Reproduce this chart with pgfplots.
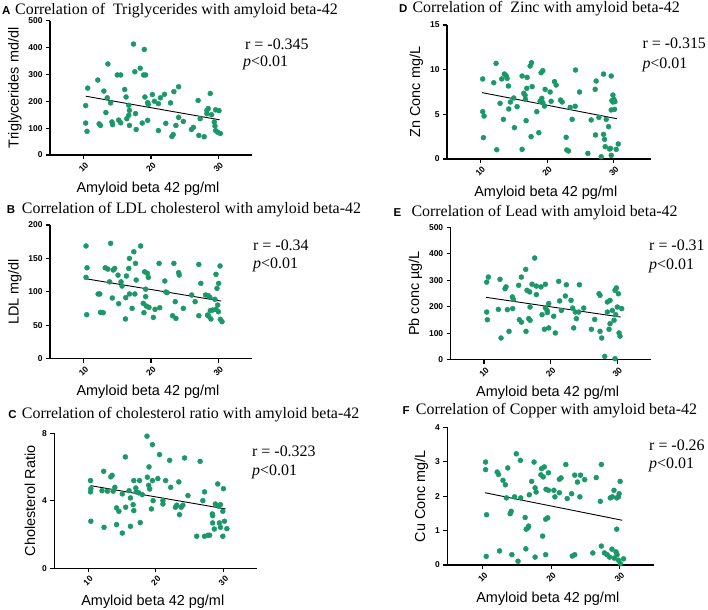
\documentclass[border=0pt]{standalone}
\usepackage{fontspec}
\setmainfont{Liberation Serif}
\setsansfont{Liberation Sans}
\usepackage{pgfplots}
\pgfplotsset{compat=1.18}
\definecolor{dotgreen}{RGB}{26,152,104}

\pgfplotsset{
  panel/.style={
    scale only axis, clip=false,
    axis x line*=bottom, axis y line*=left,
    axis line style={line width=1.2bp,-},
    tick align=outside, major tick length=4bp,
    tick style={black, line width=1.2bp},
    xmin=5, xmax=35, ymin=0, xtick={10,20,30},
    /pgf/number format/assume math mode=true,
    tick label style={font=\sffamily\bfseries\fontsize{8.5}{9}\selectfont},
    xticklabel style={rotate=45, anchor=center},
    xticklabel shift=8.5bp,
    label style={font=\sffamily\fontsize{14.5}{16}\selectfont},
    xlabel style={at={(axis description cs:0.5,0)}, anchor=base, yshift=-37bp, xshift=-3bp},
    xlabel={Amyloid beta 42 pg/ml},
  },
  dots/.style={only marks, mark=*, mark size=2.5bp, color=dotgreen, mark options={solid, draw=dotgreen, fill=dotgreen}},
  fit/.style={black, line width=0.9bp, no marks},
}
\tikzset{
  letter/.style={anchor=base west, inner sep=0pt, font=\sffamily\bfseries\fontsize{11.5}{12}\selectfont},
  ttl/.style={anchor=base west, inner sep=0pt, font=\fontsize{16}{18}\selectfont},
  stat/.style={anchor=base west, inner sep=0pt, font=\fontsize{16}{18}\selectfont},
}

\begin{document}
\begin{tikzpicture}
\useasboundingbox (0,0) rectangle (708bp,-610bp);

% A - triglycerides
\begin{axis}[panel, at={(50bp,-155bp)}, anchor=south west, width=202bp, height=134.3bp,
  ymax=500, ytick={0,100,...,500}, ylabel={Triglycerides md/dl}]
\addplot[dots] coordinates {
(10.6,249)(10.3,184)(10.3,119)(10.5,88)(12.1,279)(12.3,116)(12.5,110)(13.0,238)(13.5,213)(13.6,339)
(13.3,158)(14.0,194)(14.2,123)(14.3,113)(15.0,298)(15.5,298)(15.2,130)(15.5,120)(16.1,244)(16.3,216)
(16.7,185)(16.8,166)(16.7,148)(16.4,135)(16.8,110)(17.4,413)(17.6,310)(17.7,154)(17.8,95)(18.4,323)
(19.0,393)(18.9,298)(19.2,298)(18.7,119)(19.1,216)(19.5,195)(19.6,188)(19.5,129)(20.2,225)(20.5,200)
(21.1,191)(21.4,213)(21.1,91)(22.0,226)(22.2,118)(22.9,194)(23.4,236)(24.1,254)(23.7,110)(24.1,140)
(23.3,76)(23.1,69)(24.8,125)(26.0,95)(26.3,103)(27.0,203)(27.3,135)(27.1,73)(27.9,68)(28.3,166)
(28.5,173)(28.3,154)(28.8,229)(29.0,150)(29.4,123)(29.5,108)(29.6,168)(30.1,165)(29.6,91)(29.9,85)
(30.3,80)
};
\addplot[fit] coordinates {(10.3,219)(30.2,131)};
\end{axis}

% B - LDL
\begin{axis}[panel, at={(50bp,-358.7bp)}, anchor=south west, width=202bp, height=133.7bp,
  ymax=200, ytick={0,50,...,200}, ylabel={LDL mg/dl}]
\addplot[dots] coordinates {
(10.35,168.6)(10.5,136)(10.35,121.7)(10.45,65.8)(12.15,96.8)(12.4,96.8)(12.5,69.3)(12.9,68.8)(14.0,172.6)(13.2,136)
(13.6,134)(14.4,132.7)(14.6,135)(13.85,115)(14.25,90.8)(15.1,125)(15.55,115)(15.7,108.7)(15.2,82.3)(16.35,123.7)
(16.25,91.3)(16.2,59.4)(16.8,150)(16.7,135)(16.8,96.8)(17.2,75.3)(17.45,160)(17.7,142.6)(17.8,117.7)(17.6,96.8)
(18.45,168.6)(19.05,130)(19.45,127.7)(19.6,121.7)(19.2,104)(19.2,92.8)(18.85,82.8)(19.3,78.8)(19.7,76.8)(18.95,68.8)
(20.35,61.8)(20.6,73.8)(21.2,142.6)(21.3,76.3)(22.05,116.2)(22.2,99.8)(22.4,98.8)(23.4,142.6)(24.1,128.7)(24.2,125.2)
(23.6,85.3)(23.2,64.3)(23.7,60.3)(24.8,75.3)(26.05,95.3)(26.55,85.3)(27.1,141)(27.4,112.7)(27.1,64.3)(28.1,95.3)
(28.5,94.3)(28.75,91.8)(28.8,71.8)(29.15,72.8)(28.55,63.8)(28.9,59.4)(29.5,88.8)(29.65,73.8)(29.8,105.2)(30.05,112.7)
(30.25,138.7)(29.65,126.2)(29.9,80.3)(30.0,70.3)(30.3,58.9)(30.55,55.4)(28.4,65.3)
};
\addplot[fit] coordinates {(10.25,119.7)(30.4,86.3)};
\end{axis}

% C - cholesterol ratio
\begin{axis}[panel, at={(54.3bp,-568.3bp)}, anchor=south west, width=203bp, height=135bp,
  ymax=8, ytick={0,4,8}, ylabel={Cholesterol Ratio}]
\addplot[dots] coordinates {
(10.35,5.20)(10.4,4.72)(10.35,4.53)(10.4,2.79)(12.3,5.75)(12.05,4.60)(12.85,4.57)(12.35,2.43)(13.35,5.42)(13.55,5.51)
(13.95,4.80)(13.7,4.57)(14.2,3.58)(14.55,3.38)(14.2,2.59)(15.05,2.09)(15.05,4.41)(15.5,6.60)(15.55,3.62)(16.05,4.60)
(16.25,4.17)(16.25,2.49)(16.75,5.20)(16.65,3.77)(16.75,3.42)(17.05,4.76)(17.1,4.53)(17.6,5.20)(17.7,2.71)(17.5,4.47)
(18.0,4.37)(18.7,7.83)(18.75,5.40)(18.95,4.92)(19.1,4.70)(19.0,6.01)(19.35,3.52)(19.5,5.20)(19.5,7.33)(19.6,4.01)
(20.3,5.32)(20.55,6.74)(21.05,4.01)(21.05,3.81)(21.45,5.20)(22.05,6.40)(22.2,4.80)(22.9,3.62)(23.1,3.74)(23.4,5.12)
(23.5,3.18)(23.75,3.62)(24.0,3.74)(24.25,6.54)(24.75,4.31)(26.05,1.90)(26.55,6.34)(26.95,4.01)(27.2,4.53)(27.2,1.90)
(27.7,1.96)(27.95,1.96)(28.35,3.22)(28.4,3.12)(28.8,3.81)(28.65,2.33)(28.4,2.69)(29.15,5.00)(29.3,3.68)(29.55,3.77)
(29.4,2.69)(29.55,2.43)(29.9,1.90)(30.0,4.72)(30.15,2.79)(29.9,3.38)(30.5,2.35)
};
\addplot[fit] coordinates {(10.35,4.90)(30.3,3.52)};
\end{axis}

% D - zinc
\begin{axis}[panel, at={(447bp,-159bp)}, anchor=south west, width=203.6bp, height=134bp,
  xmax=35.5, ymax=15, ytick={0,5,10,15}, ylabel={Zn Conc mg/L}]
\addplot[dots] coordinates {
(10.35,8.96)(10.35,5.30)(10.55,4.81)(10.45,2.39)(12.35,10.71)(12.0,8.54)(12.45,1.04)(13.2,8.96)(13.6,9.51)(13.85,9.33)
(14.0,9.03)(14.2,8.17)(12.95,6.23)(13.45,4.44)(14.5,6.38)(14.25,5.60)(15.0,6.83)(15.1,3.51)(15.5,5.86)(16.25,9.29)
(16.5,7.35)(16.75,6.68)(16.85,4.29)(16.25,1.08)(16.7,7.13)(17.0,9.14)(16.95,7.91)(17.45,10.41)(17.65,10.78)(17.75,8.10)
(17.6,2.50)(18.45,5.30)(18.75,2.95)(18.95,6.46)(19.1,9.66)(19.35,9.89)(19.2,6.79)(19.35,6.31)(19.7,7.80)(19.6,5.93)
(20.45,7.50)(20.6,6.46)(21.1,8.66)(21.35,8.28)(22.0,6.60)(22.25,6.38)(22.85,2.43)(22.95,1.01)(23.2,0.90)(23.45,5.78)
(24.2,5.90)(23.75,4.44)(24.25,9.96)(24.85,7.50)(26.1,0.63)(26.6,4.37)(27.2,7.80)(27.35,8.73)(27.25,2.69)(27.75,4.66)
(28.45,9.51)(28.45,2.76)(28.1,0.26)(28.6,2.20)(28.85,4.44)(29.2,3.62)(28.7,1.38)(29.6,9.29)(29.85,7.16)(29.7,6.53)
(29.85,6.38)(30.15,6.42)(29.6,5.49)(30.1,5.56)(29.5,1.19)(29.6,0.41)(30.0,6.68)(30.35,1.08)(30.65,1.68)(29.35,1.12)
};
\addplot[fit] coordinates {(10.25,7.43)(30.45,4.51)};
\end{axis}

% E - lead
\begin{axis}[panel, at={(450.7bp,-359.7bp)}, anchor=south west, width=200bp, height=132.4bp,
  ymax=500, ytick={0,100,...,500}, ylabel={Pb conc µg/L}]
\addplot[dots] coordinates {
(10.65,312)(10.4,293)(10.4,180)(10.5,151)(12.4,303.5)(12.15,190)(12.55,82)(13.15,268)(13.3,275)(13.5,189)
(13.75,107)(14.25,237)(14.4,228)(14.3,193)(15.2,281)(15.6,312)(15.3,151)(15.6,142)(16.25,341)(16.45,262)
(16.85,256)(16.3,107)(16.9,199)(16.7,155)(16.9,149)(17.6,384)(17.2,285)(17.85,278)(17.85,246)(18.55,275)
(19.2,285)(18.7,170)(19.2,196)(19.45,186)(19.05,115)(19.7,120)(19.5,178)(19.7,212)(20.45,164)(20.7,101)
(21.2,296)(21.35,222)(21.6,186)(22.2,240.5)(22.35,283)(23.05,224)(23.3,195)(23.45,120)(23.85,155)(23.7,180)
(24.3,283)(24.2,180)(24.95,195)(26.1,115)(26.6,152)(27.25,249)(27.4,243)(27.4,107)(27.65,82)(28.1,12.6)
(28.5,218)(28.9,224)(28.5,180)(28.9,136)(28.75,115)(29.25,186)(29.5,149)(29.65,262)(29.85,271)(29.65,3.8)
(30.0,199)(30.15,249)(30.25,101)(30.4,89)(30.65,193)(29.75,170)
};
\addplot[fit] coordinates {(10.3,235.5)(30.5,161)};
\end{axis}

% F - copper
\begin{axis}[panel, at={(447.3bp,-565bp)}, anchor=south west, width=207bp, height=137.7bp,
  xmin=4.8, xmax=35.1, ymax=4, ytick={0,1,...,4}, ylabel={Cu Conc mg/L}]
\addplot[dots] coordinates {
(10.4,2.99)(10.4,2.77)(10.55,1.46)(10.5,0.25)(12.1,2.70)(12.3,2.63)(12.45,0.41)(12.95,2.46)(13.3,2.33)(13.65,2.82)
(13.45,1.95)(14.15,1.56)(14.0,1.49)(14.25,0.30)(14.9,3.23)(15.5,3.04)(14.65,1.98)(15.15,0.11)(15.55,1.95)(16.2,1.38)
(16.35,1.04)(16.6,1.08)(16.7,1.13)(16.3,0.47)(16.8,2.04)(17.15,2.43)(17.5,2.99)(17.65,2.24)(17.8,2.12)(17.65,0.23)
(18.5,2.62)(18.6,2.80)(18.85,2.56)(18.75,0.84)(19.2,1.33)(19.5,1.37)(19.2,0.30)(19.25,2.20)(19.6,2.17)(19.0,2.85)
(19.6,2.68)(20.4,2.17)(20.55,1.98)(21.2,2.49)(21.45,2.53)(21.2,2.10)(22.15,2.92)(22.35,1.93)(23.1,0.26)(23.45,0.30)
(23.0,2.07)(23.45,2.61)(23.85,2.41)(24.2,1.98)(24.3,2.61)(24.9,2.48)(26.1,0.35)(26.6,2.54)(27.2,1.85)(27.35,2.92)
(27.35,0.55)(27.8,0.35)(28.2,0.30)(28.55,0.23)(28.9,0.46)(28.65,1.95)(28.95,1.98)(29.2,2.17)(29.6,1.95)(29.95,2.07)
(30.1,2.43)(29.5,0.38)(29.65,0.30)(29.6,1.04)(29.85,0.14)(30.15,0.04)(30.6,0.18)(29.85,1.98)(29.25,0.20)
};
\addplot[fit] coordinates {(10.3,2.10)(30.4,1.30)};
\end{axis}

% panel titles
\node[letter] at (2bp,-14.5bp) {A};
\node[ttl] at (15bp,-14.5bp) {Correlation of\ \ Triglycerides with amyloid beta-42};
\node[letter] at (6.7bp,-213.3bp) {B};
\node[ttl] at (21.7bp,-213.3bp) {Correlation of LDL cholesterol with amyloid beta-42};
\node[letter] at (8.3bp,-418.3bp) {C};
\node[ttl] at (21.7bp,-418.3bp) {Correlation of cholesterol ratio with amyloid beta-42};
\node[letter] at (399bp,-12.7bp) {D};
\node[ttl] at (412.3bp,-12.7bp) {Correlation of\ \ Zinc with amyloid beta-42};
\node[letter] at (393.3bp,-216.7bp) {E};
\node[ttl] at (411.3bp,-216.7bp) {Correlation of Lead with amyloid beta-42};
\node[letter] at (402.3bp,-414.3bp) {F};
\node[ttl] at (415.7bp,-414.3bp) {Correlation of Copper with amyloid beta-42};

% statistics
\node[stat] at (245bp,-49.3bp) {r = -0.345};
\node[stat] at (243bp,-66.7bp) {\textit{p}<0.01};
\node[stat] at (253bp,-250bp) {r = -0.34};
\node[stat] at (253bp,-268.3bp) {\textit{p}<0.01};
\node[stat] at (252bp,-456.7bp) {r = -0.323};
\node[stat] at (252bp,-475bp) {\textit{p}<0.01};
\node[stat] at (642.3bp,-48.3bp) {r = -0.315};
\node[stat] at (642.3bp,-68.3bp) {\textit{p}<0.01};
\node[stat] at (649bp,-250bp) {r = -0.31};
\node[stat] at (649bp,-269bp) {\textit{p}<0.01};
\node[stat] at (649bp,-450bp) {r = -0.26};
\node[stat] at (649bp,-468.3bp) {\textit{p}<0.01};
\end{tikzpicture}
\end{document}
